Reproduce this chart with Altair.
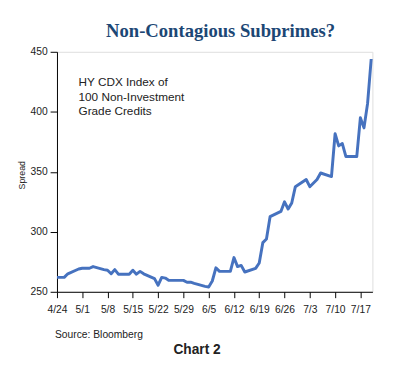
import altair as alt
import pandas as pd

dates = [
    "2007-04-24", "2007-04-25", "2007-04-26", "2007-04-27",
    "2007-04-30", "2007-05-01", "2007-05-02", "2007-05-03", "2007-05-04",
    "2007-05-07", "2007-05-08", "2007-05-09", "2007-05-10", "2007-05-11",
    "2007-05-14", "2007-05-15", "2007-05-16", "2007-05-17", "2007-05-18",
    "2007-05-21", "2007-05-22", "2007-05-23", "2007-05-24", "2007-05-25",
    "2007-05-29", "2007-05-30", "2007-05-31", "2007-06-01",
    "2007-06-04", "2007-06-05", "2007-06-06", "2007-06-07", "2007-06-08",
    "2007-06-11", "2007-06-12", "2007-06-13", "2007-06-14", "2007-06-15",
    "2007-06-18", "2007-06-19", "2007-06-20", "2007-06-21", "2007-06-22",
    "2007-06-25", "2007-06-26", "2007-06-27", "2007-06-28", "2007-06-29",
    "2007-07-02", "2007-07-03", "2007-07-05", "2007-07-06",
    "2007-07-09", "2007-07-10", "2007-07-11", "2007-07-12", "2007-07-13",
    "2007-07-16", "2007-07-17", "2007-07-18", "2007-07-19", "2007-07-20",
]
spread = [
    262, 262, 262, 265,
    269, 269.6, 269.6, 269.6, 271,
    268.5, 268, 265, 268.5, 264.7,
    264.7, 268, 264.7, 267, 265,
    261, 255.5, 262, 261.4, 259.5,
    259.5, 258, 258, 257,
    254.5, 254, 259, 270, 267,
    267, 278.5, 271, 272, 266.5,
    269.5, 274, 291, 294, 312.6,
    317, 325, 319, 324, 337.6,
    343.6, 337.6, 343.6, 349,
    346, 381.7, 371.6, 373.5, 362.7,
    362.7, 395, 386.6, 407, 444,
]

tick_dates = [(4, 24), (5, 1), (5, 8), (5, 15), (5, 22), (5, 29), (6, 5),
              (6, 12), (6, 19), (6, 26), (7, 3), (7, 10), (7, 17)]
y_ticks = [250, 300, 350, 400, 450]

title_text = "Non-Contagious Subprimes?"
note_text = "HY CDX Index of\n100 Non-Investment\nGrade Credits"
source_text = "Source: Bloomberg"
chart_label = "Chart 2"
y_title = "Spread"

df = pd.DataFrame({"date": [d + "T00:00:00" for d in dates], "spread": spread})

W, H = 322, 245

line = alt.Chart(df).mark_line(color="#4672bf", strokeWidth=3, strokeJoin="round").encode(
    x=alt.X(
        "date:T",
        scale=alt.Scale(domain=[alt.DateTime(year=2007, month=4, date=24),
                                alt.DateTime(year=2007, month=7, date=20, hours=8)]),
        axis=alt.Axis(
            values=[alt.DateTime(year=2007, month=m, date=d) for m, d in tick_dates],
            format="%-m/%-d", title=None, grid=False, tickSize=6, labelPadding=7,
            labelFontSize=10.5, labelFont="Liberation Sans", labelColor="#222",
            domainColor="black", tickColor="black", labelOverlap=False,
            labelFlush=False,
        ),
    ),
    y=alt.Y(
        "spread:Q",
        scale=alt.Scale(domain=[250, 450], nice=False, zero=False),
        axis=alt.Axis(
            values=y_ticks, title=None, grid=False, tickSize=7, labelPadding=3,
            labelFontSize=10.5, labelFont="Liberation Sans", labelColor="#222",
            domainColor="black", tickColor="black", labelFlush=False,
        ),
    ),
)

def txt(text, x, y, **kw):
    return alt.Chart(pd.DataFrame({"t": [text]})).mark_text(**kw).encode(
        x=alt.value(x), y=alt.value(y), text="t:N"
    )

title = txt(title_text, 167, -15, font="Liberation Serif", fontSize=19, fontWeight="bold",
            color="#1c4775", align="center", baseline="alphabetic")
note = txt(note_text, 22, 35, font="Liberation Sans", fontSize=12, color="#222",
           align="left", baseline="alphabetic", lineBreak="\n", lineHeight=15)
source = txt(source_text, -2, 292, font="Liberation Sans", fontSize=10.5, color="#222",
             align="left", baseline="alphabetic")
label = txt(chart_label, 143, 309, font="Liberation Sans", fontSize=14, fontWeight="bold",
            color="#222", align="center", baseline="alphabetic")
ytitle = txt(y_title, -36, 126, font="Liberation Sans", fontSize=9, color="#222",
             align="center", baseline="middle", angle=270)

chart = alt.layer(line, title, note, source, label, ytitle).properties(
    width=W, height=H,
    autosize=alt.AutoSizeParams(type="none"),
    padding={"left": 50, "top": 41, "right": 20, "bottom": 70},
).configure_view(stroke="black", strokeWidth=1).configure(background="white")

chart.save("out.html", embed_options={"renderer": "svg", "actions": False})
